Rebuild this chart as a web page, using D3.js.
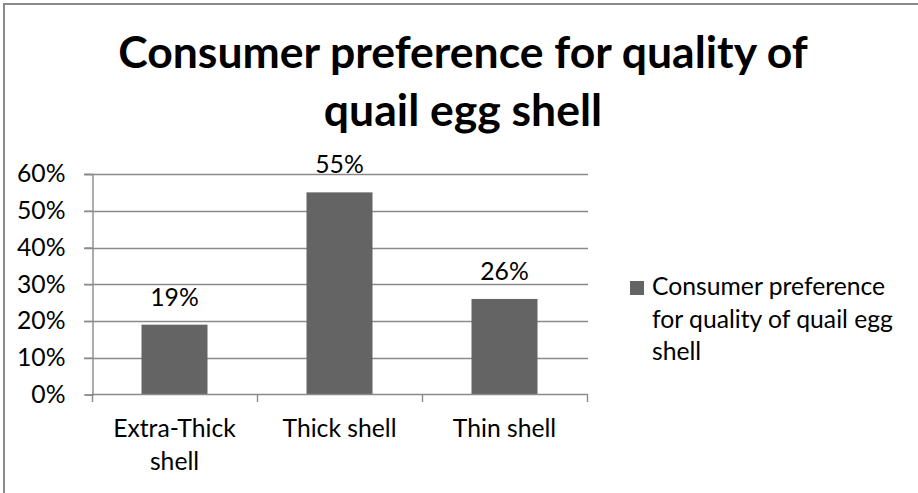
<!DOCTYPE html>
<html>
<head>
<meta charset="utf-8">
<script src="https://cdn.jsdelivr.net/npm/d3@7"></script>
<style>
  html, body { margin: 0; padding: 0; background: #fff; }
  svg { display: block; }
  text { font-family: Lato, "Open Sans", sans-serif; fill: #000; }
</style>
</head>
<body>
<svg id="chart" width="918" height="493"></svg>
<script>
// ---- data ----
const titleLines = ["Consumer preference for quality of", "quail egg shell"];
const categories = [["Extra-Thick", "shell"], ["Thick shell"], ["Thin shell"]];
const values = [0.19, 0.55, 0.26];
const valueLabels = ["19%", "55%", "26%"];
const yTicks = [0, 0.1, 0.2, 0.3, 0.4, 0.5, 0.6];
const yTickLabels = ["0%", "10%", "20%", "30%", "40%", "50%", "60%"];
const seriesName = ["Consumer preference", "for quality of quail egg", "shell"];

const svg = d3.select("#chart");
const barColor = "#646464";
const gridColor = "#8a8a8a";

// frame (only left/top visible in reference)
svg.append("rect").attr("x", 4).attr("y", 4).attr("width", 1000).attr("height", 1000)
  .attr("fill", "none").attr("stroke", "#8a8a8a").attr("stroke-width", 2);

// font fitting helper
function fitSize(str, targetW, weight) {
  const t = svg.append("text").attr("font-size", 100).attr("font-weight", weight).text(str);
  const w = t.node().getComputedTextLength();
  t.remove();
  return 100 * targetW / w;
}
const titleSize = fitSize(titleLines[0], 690, "bold");
const bodySize = fitSize(seriesName[1], 241, "normal");

// title
const title = svg.append("text").attr("text-anchor", "middle")
  .attr("font-weight", "bold").attr("font-size", titleSize);
titleLines.forEach((l, i) => {
  title.append("tspan").attr("x", 463).attr("y", 68 + i * 58).text(l);
});

// scales
const x = d3.scaleBand().domain(d3.range(categories.length)).range([92, 587])
  .paddingInner(0.6).paddingOuter(0.3);
const xStep = x.step();
const y = d3.scaleLinear().domain([0, 0.6]).range([394.5, 174]);

// gridlines
svg.append("g").selectAll("line").data(yTicks.slice(1)).join("line")
  .attr("x1", 84).attr("x2", 588)
  .attr("y1", d => Math.round(y(d)) + 0.5).attr("y2", d => Math.round(y(d)) + 0.5)
  .attr("stroke", gridColor).attr("stroke-width", 1.4);

// y axis
const yAxis = d3.axisLeft(y).tickValues(yTicks).tickFormat((d, i) => yTickLabels[i])
  .tickSize(8).tickPadding(19);
const gy = svg.append("g").attr("transform", "translate(92.5,0)").call(yAxis);
gy.select(".domain").attr("stroke", gridColor).attr("stroke-width", 1.4);
gy.selectAll(".tick line").attr("stroke", gridColor).attr("stroke-width", 1.4);
gy.selectAll(".tick text").attr("font-size", bodySize).attr("font-family", "Lato, sans-serif")
  .attr("fill", "#000");

// bars
svg.append("g").selectAll("rect").data(values).join("rect")
  .attr("x", (d, i) => x(i)).attr("width", x.bandwidth())
  .attr("y", d => y(d)).attr("height", d => y(0) - y(d))
  .attr("fill", barColor);

// x axis
const xEdges = d3.range(categories.length + 1).map(i => 92 + i * xStep);
svg.append("line").attr("x1", 92).attr("x2", 588).attr("y1", 394.5).attr("y2", 394.5)
  .attr("stroke", gridColor).attr("stroke-width", 1.4);
svg.append("g").selectAll("line").data(xEdges).join("line")
  .attr("x1", d => Math.round(d) + 0.5).attr("x2", d => Math.round(d) + 0.5)
  .attr("y1", 394.5).attr("y2", 402)
  .attr("stroke", gridColor).attr("stroke-width", 1.4);

// category labels
const cl = svg.append("g").selectAll("text").data(categories).join("text")
  .attr("text-anchor", "middle").attr("font-size", bodySize);
cl.each(function (lines, i) {
  const cx = x(i) + x.bandwidth() / 2;
  lines.forEach((l, j) => {
    d3.select(this).append("tspan").attr("x", cx).attr("y", 437 + j * 32.5).text(l);
  });
});

// value labels
svg.append("g").selectAll("text").data(values).join("text")
  .attr("text-anchor", "middle").attr("font-size", bodySize)
  .attr("x", (d, i) => x(i) + x.bandwidth() / 2)
  .attr("y", d => y(d) - 19)
  .text((d, i) => valueLabels[i]);

// legend
svg.append("rect").attr("x", 630).attr("y", 281).attr("width", 14).attr("height", 14)
  .attr("fill", barColor);
const lt = svg.append("text").attr("font-size", bodySize);
seriesName.forEach((l, j) => {
  lt.append("tspan").attr("x", 652).attr("y", 295 + j * 32.5).text(l);
});
</script>
</body>
</html>
